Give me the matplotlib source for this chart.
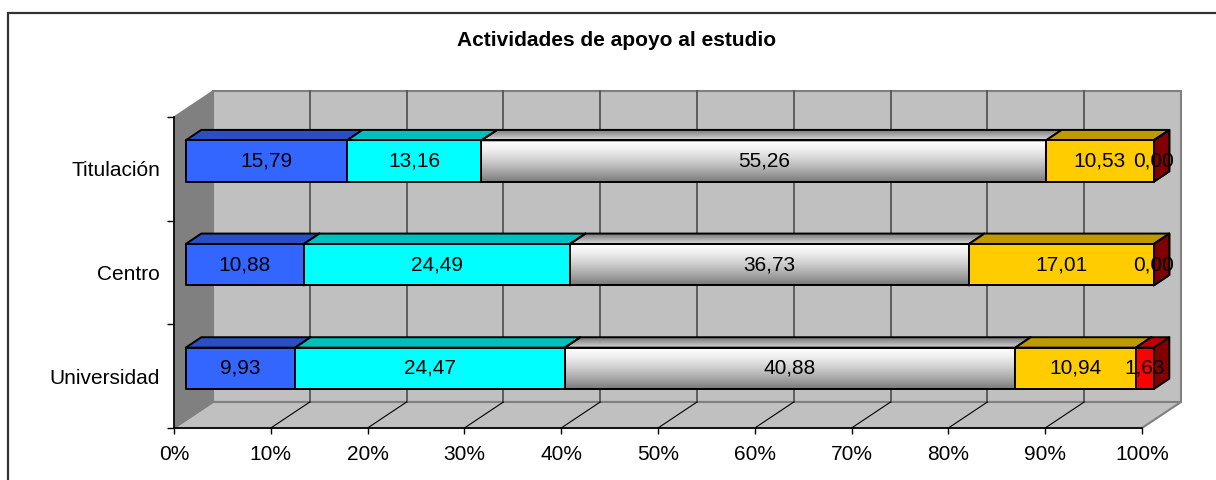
import numpy as np
import matplotlib.pyplot as plt
from matplotlib.patches import Polygon, Rectangle

# --- data (bottom to top, as drawn) ---
categories = ["Universidad", "Centro", "Titulación"]
serie_1 = [9.93, 10.88, 15.79]
serie_2 = [24.47, 24.49, 13.16]
serie_3 = [40.88, 36.73, 55.26]
serie_4 = [10.94, 17.01, 10.53]
serie_5 = [1.63, 0.00, 0.00]
x_ticks = list(range(0, 101, 10))

series = [serie_1, serie_2, serie_3, serie_4, serie_5]
front_colors = ["#3366FF", "#00FFFF", None, "#FFCC00", "#FF0000"]
top_colors = ["#2A4FC4", "#00BFBF", None, "#BF9900", "#C00000"]
side_colors = ["#1F3A99", "#008080", "#606060", "#997A00", "#800000"]

FONT = ["Liberation Sans", "DejaVu Sans"]
plt.rcParams["font.family"] = FONT

# oblique depth of the box (in data units) and bar slab position in depth
DX = 100 * 39 / 968
DY = 3 * 26 / 311
D0, D1 = 0.3, 0.7
H = 0.2


def proj(x, y, d):
    return (x + d * DX, y + d * DY)


fig = plt.figure(figsize=(12.16, 4.8), dpi=100)
ax = fig.add_axes([174 / 1216, 52 / 480, 968 / 1216, 311 / 480])
ax.patch.set_visible(False)

# walls
ax.add_patch(Polygon([proj(0, 0, 1), proj(100, 0, 1), proj(100, 3, 1), proj(0, 3, 1)],
                     fc="#C0C0C0", ec="#808080", lw=1.5, clip_on=False, zorder=0))
ax.add_patch(Polygon([proj(0, 0, 0), proj(0, 0, 1), proj(0, 3, 1), proj(0, 3, 0)],
                     fc="#808080", ec="#808080", lw=1, clip_on=False, zorder=0))
ax.add_patch(Polygon([proj(0, 0, 0), proj(100, 0, 0), proj(100, 0, 1), proj(0, 0, 1)],
                     fc="#C0C0C0", ec="#808080", lw=1.5, clip_on=False, zorder=0))
ax.plot([0, DX], [0, DY], color="#808080", lw=1, clip_on=False, zorder=0.1)

# gridlines on back wall and floor
for t in x_ticks[1:-1]:
    ax.plot([t + DX, t + DX], [DY, 3 + DY], color="#555555", lw=1.3, clip_on=False, zorder=0.5)
    ax.plot([t, t + DX], [0, DY], color="black", lw=0.8, clip_on=False, zorder=0.5)


def gradient(poly, vals):
    xs = [p[0] for p in poly]
    ys = [p[1] for p in poly]
    arr = np.array(vals)[:, None, None] * np.ones((1, 1, 3))
    im = ax.imshow(arr, extent=[min(xs), max(xs), min(ys), max(ys)], origin="upper",
                   aspect="auto", interpolation="bilinear", zorder=2, clip_on=True)
    clip = Polygon(poly, transform=ax.transData)
    im.set_clip_path(clip)
    im.set_clip_box(None)


tt = np.linspace(0, 1, 64)
front_grad = 1.0 - 0.52 * tt ** 1.4
top_grad = 0.45 + 0.4 * tt

for i, cat in enumerate(categories):
    yc = i + 0.5
    vals = [s[i] for s in series]
    total = sum(vals)
    pct = np.array(vals) / total * 100
    edges = np.concatenate([[0], np.cumsum(pct)])
    for j in range(len(vals)):
        x0, x1 = edges[j], edges[j + 1]
        side = [proj(x1, yc - H, D0), proj(x1, yc - H, D1), proj(x1, yc + H, D1), proj(x1, yc + H, D0)]
        top = [proj(x0, yc + H, D0), proj(x1, yc + H, D0), proj(x1, yc + H, D1), proj(x0, yc + H, D1)]
        front = [proj(x0, yc - H, D0), proj(x1, yc - H, D0), proj(x1, yc + H, D0), proj(x0, yc + H, D0)]
        ax.add_patch(Polygon(side, fc=side_colors[j], ec="black", lw=1.4, clip_on=False, zorder=2,
                             joinstyle="round"))
        if front_colors[j] is None:
            if x1 > x0:
                gradient(top, top_grad)
                gradient(front, front_grad)
            ax.add_patch(Polygon(top, fill=False, ec="black", lw=1.4, clip_on=False, zorder=2.1))
            ax.add_patch(Polygon(front, fill=False, ec="black", lw=1.4, clip_on=False, zorder=2.1))
        else:
            ax.add_patch(Polygon(top, fc=top_colors[j], ec="black", lw=1.4, clip_on=False, zorder=2.1,
                                 joinstyle="round"))
            ax.add_patch(Polygon(front, fc=front_colors[j], ec="black", lw=1.4, clip_on=False, zorder=2.1,
                                 joinstyle="round"))
        xl, yl = proj((x0 + x1) / 2, yc, D0)
        ax.text(xl, yl, f"{vals[j]:.2f}".replace(".", ","), ha="center", va="center",
                fontsize=15, color="black", zorder=10, clip_on=False)

ax.set_xlim(0, 100)
ax.set_ylim(0, 3)

ax.set_xticks(x_ticks)
ax.set_xticklabels([f"{t}%" for t in x_ticks])
ax.tick_params(axis="x", length=4, width=1, pad=8, labelsize=15, colors="black")
ax.set_yticks([0, 1, 2, 3])
ax.set_yticklabels([])
ax.set_yticks([0.5, 1.5, 2.5], minor=True)
ax.set_yticklabels(categories, minor=True)
ax.tick_params(axis="y", which="major", length=5, width=1, direction="out")
ax.tick_params(axis="y", which="minor", length=0, pad=10, labelsize=15)
for s in ["top", "right"]:
    ax.spines[s].set_visible(False)
for s in ["left", "bottom"]:
    ax.spines[s].set_linewidth(1.2)
    ax.spines[s].set_color("black")

fig.text(617 / 1216, 1 - 41 / 480, "Actividades de apoyo al estudio", ha="center", va="center",
         fontsize=15, fontweight="bold")

fig.add_artist(Rectangle((7.5 / 1216, -0.2), 1.5, 1.2 - 13 / 480, transform=fig.transFigure,
                         fill=False, ec="#333333", lw=1.6))

fig.savefig("out.png", dpi=100)
